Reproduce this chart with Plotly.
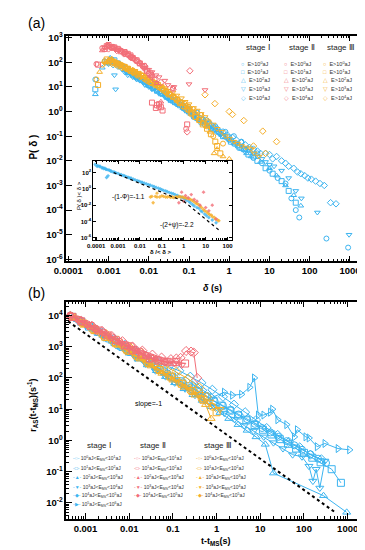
import math
import plotly.graph_objects as go

W, H = 365, 550
BLUE = '#3cb4f0'
RED = '#f26e78'
ORANGE = '#f5ae28'
FONT = 'Liberation Sans, Arial, sans-serif'

# ---------------- Panel (a): P(delta) ----------------
# stage I (blue)
a1_e0_x = [0.00047, 0.0008, 0.0012, 0.0018, 0.0028, 0.0045, 0.007, 0.011, 0.018, 0.03, 0.05, 0.08, 0.13, 0.2, 0.35, 0.6, 1.0, 1.6, 2.5, 4, 6.5, 10, 16, 25, 35, 45, 55, 260, 900,
           0.0013, 0.0022, 0.0035, 0.0055, 0.009, 0.014, 0.023, 0.04, 0.065, 0.1, 0.16, 0.27, 0.45, 0.8, 1.3, 2, 3.2, 5]
a1_e0_y = [20, 110, 130, 85, 45, 30, 18, 11, 6, 3.5, 2, 1.2, 0.6, 0.35, 0.2, 0.12, 0.07, 0.04, 0.025, 0.013, 0.008, 0.004, 0.002, 0.0012, 0.0003, 0.0001, 0.00005, 7e-6, 3e-6,
           95, 70, 40, 28, 15, 9, 7, 4, 2.4, 1.3, 0.9, 0.45, 0.25, 0.15, 0.1, 0.06, 0.03, 0.02]
a1_e1_x = [0.00047, 0.0009, 0.0014, 0.002, 0.003, 0.005, 0.008, 0.013, 0.02, 0.035, 0.06, 0.1, 0.16, 0.25, 0.4, 0.7, 1.1, 1.8, 3, 5, 8, 12, 20, 30, 45,
           0.0011, 0.0017, 0.0026, 0.004, 0.0065, 0.01, 0.016, 0.028, 0.045, 0.075, 0.13, 0.2, 0.32, 0.55, 0.9, 1.4, 2.3, 4]
a1_e1_y = [8, 100, 120, 70, 40, 25, 16, 9, 5.5, 3, 1.8, 1, 0.55, 0.32, 0.2, 0.1, 0.06, 0.035, 0.018, 0.01, 0.005, 0.003, 0.0015, 0.0006, 0.0002,
           110, 90, 55, 35, 20, 12, 7, 4, 2.4, 1.4, 0.75, 0.45, 0.3, 0.15, 0.09, 0.05, 0.03, 0.015]
a1_e2_x = [0.00047, 0.0007, 0.0011, 0.0016, 0.0025, 0.004, 0.006, 0.01, 0.016, 0.025, 0.04, 0.07, 0.11, 0.18, 0.3, 0.5, 0.8, 1.3, 2, 3.5, 6, 10, 15, 25, 40, 60,
           0.0013, 0.002, 0.0032, 0.005, 0.008, 0.013, 0.02, 0.032, 0.055, 0.09, 0.14, 0.24, 0.4, 0.65, 1.05, 1.7, 2.7]
a1_e2_y = [5, 60, 150, 90, 50, 28, 20, 12, 7, 4.5, 2.5, 1.4, 0.8, 0.45, 0.25, 0.15, 0.09, 0.05, 0.03, 0.015, 0.009, 0.005, 0.0025, 0.001, 0.0004, 0.00015,
           120, 70, 40, 25, 15, 10, 6, 3.5, 2, 1, 0.6, 0.35, 0.2, 0.12, 0.07, 0.04, 0.02]
a1_e3_x = [0.0014, 0.0015, 0.0025, 0.004, 0.006, 0.01, 0.015, 0.025, 0.04, 0.065, 0.1, 0.17, 0.28, 0.45, 0.7, 1.2, 2, 3, 5, 8, 13, 20, 30, 45, 62, 155, 950,
           0.003, 0.005, 0.008, 0.012, 0.02, 0.032, 0.05, 0.08, 0.13, 0.22, 0.35, 0.55, 0.9, 1.5, 2.5, 4, 6.5, 10]
a1_e3_y = [30, 8, 40, 25, 18, 10, 7, 4, 2.4, 1.5, 0.9, 0.5, 0.3, 0.18, 0.1, 0.06, 0.04, 0.025, 0.015, 0.009, 0.006, 0.004, 0.002, 0.0006, 0.0003, 0.00008, 0.00001,
           30, 20, 12, 8, 5, 3, 2, 1.2, 0.7, 0.4, 0.25, 0.14, 0.08, 0.05, 0.03, 0.02, 0.012, 0.007]
a1_e4_x = [0.001, 0.0017, 0.003, 0.005, 0.008, 0.013, 0.02, 0.035, 0.06, 0.1, 0.17, 0.3, 0.5, 0.9, 1.5, 2.5, 4, 6, 10, 15, 25, 40, 60, 90, 140, 230, 330, 450,
           0.0013, 0.0022, 0.004, 0.0065, 0.01, 0.016, 0.027, 0.045, 0.08, 0.13, 0.22, 0.4, 0.7, 1.2, 2, 3.2, 5, 8, 12, 20, 30, 50, 75, 110, 180]
a1_e4_y = [90, 70, 40, 25, 14, 9, 6, 3.5, 2, 1.1, 0.6, 0.35, 0.2, 0.11, 0.07, 0.045, 0.03, 0.02, 0.018, 0.015, 0.008, 0.005, 0.003, 0.002, 0.0015, 0.001, 0.0002, 0.00018,
           80, 55, 30, 20, 12, 8, 4.5, 2.8, 1.5, 0.8, 0.5, 0.25, 0.15, 0.09, 0.055, 0.035, 0.025, 0.02, 0.012, 0.01, 0.006, 0.0035, 0.0025, 0.0018, 0.0012]
# stage II (red)
a2_e0_x = [0.0005, 0.0009, 0.0012, 0.0017, 0.0025, 0.0035, 0.005, 0.007, 0.01, 0.014, 0.018, 0.04, 0.085,
           0.0007, 0.001, 0.0014, 0.002, 0.003, 0.0042, 0.006, 0.0085, 0.012]
a2_e0_y = [85, 420, 380, 330, 230, 160, 110, 70, 35, 20, 1.5, 9, 0.2,
           380, 460, 400, 300, 200, 140, 90, 50, 25]
a2_e1_x = [0.00055, 0.0008, 0.001, 0.0014, 0.002, 0.003, 0.004, 0.006, 0.009, 0.012, 0.015, 0.018, 0.022, 0.09,
           0.0009, 0.0012, 0.0017, 0.0025, 0.0035, 0.005, 0.0075, 0.011, 0.016, 0.02]
a2_e1_y = [80, 350, 500, 400, 280, 220, 150, 90, 45, 2.3, 1.4, 2.0, 1.1, 0.3,
           450, 420, 350, 260, 190, 120, 70, 35, 1.8, 1.5]
a2_e2_x = [0.0007, 0.001, 0.0013, 0.002, 0.0028, 0.004, 0.006, 0.008, 0.011, 0.016, 0.02]
a2_e2_y = [300, 450, 420, 320, 250, 170, 100, 55, 28, 14, 2.5]
a2_e3_x = [0.0008, 0.0012, 0.0018, 0.0026, 0.0037, 0.0055, 0.008, 0.012, 0.018, 0.03, 0.1, 0.25,
           0.001, 0.0015, 0.0022, 0.0031, 0.0045, 0.0068, 0.01, 0.015, 0.025, 0.042]
a2_e3_y = [400, 380, 300, 240, 150, 90, 60, 40, 25, 12, 13, 7.5,
           450, 330, 280, 200, 120, 75, 50, 30, 18, 10]
a2_e4_x = [0.001, 0.0016, 0.0024, 0.0035, 0.005, 0.008, 0.012, 0.02, 0.04, 0.105, 0.09]
a2_e4_y = [350, 300, 220, 170, 120, 70, 30, 15, 8, 45, 0.15]
# stage III (orange)
a3_e0_x = [0.0005, 0.0008, 0.0011, 0.0016, 0.0024, 0.0035, 0.005, 0.008, 0.012, 0.018, 0.028, 0.045, 0.07, 0.11, 0.18, 0.28, 0.4, 0.7,
           0.0007, 0.0013, 0.002, 0.003, 0.0042, 0.0065, 0.01, 0.015, 0.023, 0.035, 0.055, 0.09, 0.14, 0.22]
a3_e0_y = [20, 110, 120, 90, 70, 45, 35, 25, 14, 10, 6, 3.5, 1.6, 0.8, 0.45, 0.25, 0.1, 0.05,
           80, 100, 80, 55, 40, 30, 20, 12, 8, 5, 2.5, 1.2, 0.6, 0.35]
a3_e1_x = [0.00055, 0.0009, 0.0013, 0.002, 0.003, 0.0045, 0.007, 0.011, 0.017, 0.026, 0.04, 0.06, 0.1, 0.15, 0.22, 0.35, 0.5, 0.6,
           0.0011, 0.0016, 0.0025, 0.0037, 0.0055, 0.009, 0.014, 0.021, 0.032, 0.05, 0.08, 0.12, 0.18, 0.28, 0.45]
a3_e1_y = [12, 130, 100, 75, 55, 40, 28, 16, 12, 7, 4, 2.2, 1.2, 0.6, 0.3, 0.12, 0.04, 0.02,
           120, 90, 65, 45, 32, 20, 14, 9, 5, 3, 1.6, 0.9, 0.45, 0.2, 0.06]
a3_e2_x = [0.0006, 0.0009, 0.0012, 0.0018, 0.0027, 0.004, 0.006, 0.009, 0.014, 0.022, 0.035, 0.055, 0.09, 0.14, 0.22, 0.33, 0.5, 0.7, 1.0,
           0.0015, 0.0022, 0.0033, 0.005, 0.0075, 0.011, 0.017, 0.028, 0.045, 0.07, 0.11, 0.18, 0.27, 0.42]
a3_e2_y = [40, 100, 140, 85, 60, 50, 30, 20, 15, 8, 5, 3, 1.5, 0.9, 0.35, 0.15, 0.03, 0.015, 0.012,
           110, 70, 55, 40, 25, 17, 11, 7, 4, 2, 1.2, 0.5, 0.25, 0.02]
a3_e3_x = [0.0008, 0.0012, 0.0017, 0.0025, 0.0038, 0.0055, 0.008, 0.012, 0.02, 0.03, 0.05, 0.08, 0.13, 0.2, 0.3, 0.5, 0.8, 1.3, 2, 3.5, 5.5,
           0.001, 0.0014, 0.002, 0.003, 0.0045, 0.0067, 0.01, 0.015, 0.025, 0.04, 0.065, 0.1, 0.16, 0.25, 0.4, 0.65, 1, 1.6, 2.6, 4.2]
a3_e3_y = [90, 120, 95, 70, 50, 38, 26, 18, 11, 7, 4.5, 2.5, 1.4, 0.8, 0.4, 0.2, 0.1, 0.06, 0.04, 0.03, 0.015,
           110, 100, 80, 60, 45, 32, 22, 15, 9, 6, 3.5, 2, 1.1, 0.6, 0.3, 0.15, 0.08, 0.05, 0.035, 0.02]
a3_e4_x = [0.001, 0.0015, 0.0022, 0.0033, 0.005, 0.0075, 0.011, 0.017, 0.026, 0.04, 0.06, 0.1, 0.25, 0.44, 1.0, 1.2, 2.3, 6.8, 15, 4, 8,
           0.0012, 0.0018, 0.0027, 0.004, 0.006, 0.009, 0.014, 0.021, 0.032, 0.05, 0.08, 0.13, 0.2, 0.3]
a3_e4_y = [100, 80, 60, 45, 30, 22, 15, 10, 6, 4, 2.5, 1.5, 4.8, 2.1, 1.0, 0.76, 0.43, 0.16, 0.06, 0.04, 0.02,
           90, 70, 55, 38, 26, 18, 12, 8, 5, 3, 2, 1.2, 0.7, 0.4]

# inset: scaled distributions
in_blue_x = [0.00009, 0.00012, 0.00015, 0.0002, 0.00025, 0.0003, 0.0004, 0.0005, 0.0007, 0.001, 0.0014, 0.002, 0.003, 0.004, 0.006, 0.009, 0.013, 0.02, 0.03, 0.045, 0.07, 0.1, 0.15, 0.22, 0.33, 0.5, 0.75, 1.1, 1.7, 2.5, 4, 6, 9, 14, 20, 30, 0.0003, 0.00035,
             0.00011, 0.00014, 0.00018, 0.00022, 0.00028, 0.00035, 0.00045, 0.0006, 0.0008, 0.0012, 0.0017, 0.0025, 0.0035, 0.005, 0.0075, 0.011, 0.016, 0.025, 0.038, 0.055, 0.085, 0.12, 0.18, 0.27, 0.4, 0.6, 0.9, 1.3, 2, 3, 5, 7, 11]
in_blue_y = [1000, 700, 600, 400, 350, 250, 200, 150, 110, 80, 55, 40, 25, 20, 13, 9, 6, 4, 2.8, 1.8, 1.2, 0.8, 0.55, 0.35, 0.25, 0.16, 0.1, 0.06, 0.03, 0.012, 0.005, 0.002, 0.0008, 0.0003, 0.00015, 0.00007, 25, 40,
             600, 550, 400, 320, 250, 220, 160, 120, 90, 60, 45, 30, 22, 15, 10, 7, 5, 3.2, 2.2, 1.5, 1, 0.65, 0.45, 0.3, 0.2, 0.12, 0.08, 0.04, 0.02, 0.008, 0.004, 0.0015, 0.0005]
in_orange_x = [0.03, 0.05, 0.08, 0.12, 0.18, 0.25, 0.35, 0.5, 0.7, 1, 1.4, 2, 2.8, 4, 5.5, 8, 11, 15, 20, 28, 40, 0.04, 0.06,
               0.035, 0.06, 0.1, 0.15, 0.22, 0.3, 0.45, 0.6, 0.85, 1.2, 1.7, 2.4, 3.4, 4.7, 6.5, 9, 13, 18, 25, 35]
in_orange_y = [0.1, 0.12, 0.1, 0.12, 0.1, 0.09, 0.085, 0.09, 0.1, 0.09, 0.07, 0.05, 0.03, 0.015, 0.008, 0.003, 0.0015, 0.0007, 0.0004, 0.0002, 0.00012, 0.02, 0.3,
               0.12, 0.1, 0.14, 0.1, 0.12, 0.1, 0.11, 0.12, 0.1, 0.08, 0.06, 0.04, 0.02, 0.012, 0.005, 0.002, 0.001, 0.0006, 0.0003, 0.00015]
in_red_x = [0.8, 1.2, 1.6, 2.2, 3, 4, 5.5, 8, 10, 14, 20, 30, 0.6, 1]
in_red_y = [0.4, 0.15, 0.08, 0.2, 0.05, 0.03, 0.01, 0.4, 0.005, 0.002, 0.01, 0.0002, 0.02, 0.03]
in_guide1_x = [0.00063, 1.0]
in_guide1_y = [100, 0.03]
in_guide2_x = [1.0, 45]
in_guide2_y = [0.03, 6.9e-6]

# ---------------- Panel (b): aftershock rate ----------------
b1_e0_x = [0.00045, 0.0007, 0.0011, 0.0017, 0.0026, 0.004, 0.006, 0.009, 0.014, 0.021, 0.032, 0.05, 0.075, 0.11, 0.17, 0.26, 0.4, 0.6, 0.9, 1.4, 2.1, 3.2, 5, 7.5, 11, 17, 26, 40, 60, 90, 140, 210, 320]
b1_e0_y = [10000, 7000, 4800, 3300, 2300, 1600, 1150, 800, 560, 400, 290, 200, 140, 100, 72, 50, 36, 26, 18, 13, 9.5, 6.8, 4.8, 3.4, 2.5, 1.8, 1.3, 0.95, 0.7, 0.5, 0.36, 0.26, 0.19]
b1_e1_x = [0.0005, 0.0008, 0.0012, 0.0019, 0.003, 0.0046, 0.007, 0.011, 0.017, 0.026, 0.04, 0.062, 0.095, 0.15, 0.23, 0.35, 0.55, 0.85, 1.3, 2, 3.1, 4.8, 7.4, 11.5, 18, 28, 43, 66, 100, 155, 240, 430, 700]
b1_e1_y = [9000, 6300, 4400, 3000, 2000, 1400, 980, 680, 470, 330, 230, 160, 110, 78, 54, 38, 26, 18.5, 13, 9, 6.3, 4.4, 3.1, 2.2, 1.55, 1.1, 0.78, 0.55, 0.4, 0.28, 0.2, 0.12, 0.044]
b1_e2_x = [0.0005, 0.0009, 0.0015, 0.0025, 0.004, 0.0065, 0.01, 0.016, 0.026, 0.042, 0.068, 0.11, 0.18, 0.29, 0.47, 0.75, 1.2, 1.9, 3.1, 5, 8, 13, 20, 280, 950]
b1_e2_y = [8800, 5600, 3600, 2300, 1500, 950, 620, 400, 260, 170, 110, 70, 45, 29, 19, 12, 7.8, 5, 3.2, 2.1, 1.3, 0.75, 0.09, 0.017, 0.005]
b1_e3_x = [0.00055, 0.001, 0.0018, 0.003, 0.005, 0.0085, 0.014, 0.024, 0.04, 0.068, 0.11, 0.19, 0.32, 0.55, 0.9, 1.5, 2.6, 4.3, 7, 12, 20, 33, 55, 90, 130, 160, 190, 230, 300]
b1_e3_y = [8000, 4800, 2900, 1800, 1100, 700, 440, 280, 170, 110, 70, 45, 28, 18, 11.5, 7.5, 4.8, 3, 2, 1.3, 0.85, 0.55, 0.35, 0.3, 0.15, 0.05, 0.12, 0.03, 0.22]
b1_e4_x = [0.00045, 0.0008, 0.0014, 0.0025, 0.0045, 0.008, 0.014, 0.025, 0.045, 0.08, 0.14, 0.25, 0.45, 0.8, 1.4, 2.5, 4.5, 8, 14, 25, 45, 80, 140, 250]
b1_e4_y = [9500, 6500, 4300, 2800, 1800, 1150, 760, 500, 330, 230, 170, 110, 70, 42, 25, 14, 8, 4.5, 2.5, 1.5, 0.9, 0.6, 0.35, 0.25]
b1_e5_x = [0.3, 0.5, 0.8, 1.5, 2.3, 3.7, 5.7, 7.3, 9, 12, 17, 19, 25, 40, 60, 70, 110, 130, 200, 300, 600, 1100]
b1_e5_y = [60, 40, 24, 35, 28, 30, 50, 100, 6.5, 6.5, 8, 10, 4.6, 3.2, 1.3, 2.2, 1.3, 1.2, 0.63, 0.8, 0.55, 0.5]
b2_e0_x = [0.00045, 0.0007, 0.0011, 0.0017, 0.0026, 0.004, 0.006, 0.0085, 0.011, 0.014, 0.018, 0.024, 0.032, 0.045, 0.065]
b2_e0_y = [10000, 7300, 5200, 3800, 2800, 2000, 1450, 1100, 1050, 800, 700, 520, 420, 380, 330]
b2_e1_x = [0.0005, 0.0008, 0.0013, 0.002, 0.0032, 0.005, 0.008, 0.012, 0.019, 0.03, 0.047, 0.075, 0.12, 0.19]
b2_e1_y = [9000, 6500, 4600, 3300, 2300, 1600, 1100, 760, 560, 420, 360, 330, 320, 290]
b2_e2_x = [0.00045, 0.00075, 0.0012, 0.002, 0.0033, 0.0055, 0.009, 0.015, 0.025, 0.04, 0.065, 0.1]
b2_e2_y = [9800, 7000, 4900, 3300, 2300, 1500, 1000, 700, 500, 400, 320, 280]
b2_e3_x = [0.00055, 0.0009, 0.0015, 0.0025, 0.004, 0.0065, 0.01, 0.017, 0.028, 0.045, 0.07, 0.11, 0.16]
b2_e3_y = [8500, 6000, 4100, 2800, 1900, 1300, 900, 640, 480, 380, 330, 300, 260]
b2_e4_x = [0.00045, 0.0008, 0.0014, 0.0024, 0.004, 0.007, 0.012, 0.02, 0.034, 0.055, 0.09, 0.12, 0.15, 0.2, 0.26, 0.3, 0.36]
b2_e4_y = [9500, 6800, 4700, 3200, 2200, 1500, 1000, 750, 560, 450, 400, 420, 440, 730, 700, 650, 100]
b3_e0_x = [0.00045, 0.0008, 0.0014, 0.0025, 0.0045, 0.008, 0.014, 0.025, 0.045, 0.08, 0.14, 0.25, 0.45, 0.8]
b3_e0_y = [9800, 6000, 3700, 2300, 1400, 850, 520, 320, 190, 115, 70, 40, 22, 12]
b3_e1_x = [0.0005, 0.0009, 0.0016, 0.0028, 0.005, 0.009, 0.016, 0.028, 0.05, 0.09, 0.16, 0.28, 0.5, 1.0]
b3_e1_y = [9000, 5500, 3400, 2100, 1300, 800, 490, 300, 180, 110, 65, 38, 20, 8]
b3_e2_x = [0.00055, 0.001, 0.0018, 0.0032, 0.0056, 0.01, 0.018, 0.032, 0.056, 0.1, 0.18, 0.32, 0.56, 0.75]
b3_e2_y = [8500, 5000, 3000, 1800, 1100, 650, 400, 240, 140, 85, 50, 28, 14, 5]
b3_e3_x = [0.0006, 0.0011, 0.002, 0.0036, 0.0065, 0.012, 0.021, 0.038, 0.07, 0.12, 0.22, 0.4, 0.7, 1.2]
b3_e3_y = [8000, 4800, 2800, 1700, 1050, 640, 390, 240, 145, 90, 52, 30, 17, 10]
b3_e4_x = [0.00045, 0.00085, 0.0016, 0.003, 0.0055, 0.01, 0.019, 0.035, 0.065, 0.12, 0.22, 0.4, 0.6]
b3_e4_y = [9600, 6200, 3900, 2500, 1600, 1000, 640, 400, 250, 160, 95, 50, 25]
slope_x = [0.0004, 550]
slope_y = [6500, 0.0047]

# tick labels
a_xticks = [0.0001, 0.001, 0.01, 0.1, 1, 10, 100, 1000]
a_xlabels = ['0.0001', '0.001', '0.01', '0.1', '1', '10', '100', '1000']
a_yexp = [3, 2, 1, 0, -1, -2, -3, -4, -5, -6]
b_xticks = [0.001, 0.01, 0.1, 1, 10, 100, 1000]
b_xlabels = ['0.001', '0.01', '0.1', '1', '10', '100', '1000']
b_yexp = [4, 3, 2, 1, 0, -1, -2]
in_xticks = [0.0001, 0.001, 0.01, 0.1, 1, 10, 100]
in_xlabels = ['0.0001', '0.001', '0.01', '0.1', '1', '10', '100']
in_yexp = [2, 0, -2, -4, -6]

stage_names = ['stage Ⅰ', 'stage Ⅱ', 'stage Ⅲ']
a_legend_exp = [0, 1, 2, 3, 4]
b_legend_lo = [[0, 1, 2, 3, 4, 5], [0, 1, 2, 3, 4], [0, 1, 2, 3, 4]]

# ---------------- build ----------------
def px(x):
    return x / W

def py(y):
    return 1 - y / H

fig = go.Figure()
SYM_A = ['circle-open', 'square-open', 'triangle-up-open', 'triangle-down-open', 'diamond-open']
SYM_B = ['circle-open', 'square-open', 'triangle-up-open', 'triangle-down-open', 'diamond-open', 'triangle-right-open']

a_series = [
    (BLUE, [(a1_e0_x, a1_e0_y), (a1_e1_x, a1_e1_y), (a1_e2_x, a1_e2_y), (a1_e3_x, a1_e3_y), (a1_e4_x, a1_e4_y)]),
    (ORANGE, [(a3_e0_x, a3_e0_y), (a3_e1_x, a3_e1_y), (a3_e2_x, a3_e2_y), (a3_e3_x, a3_e3_y), (a3_e4_x, a3_e4_y)]),
    (RED, [(a2_e0_x, a2_e0_y), (a2_e1_x, a2_e1_y), (a2_e2_x, a2_e2_y), (a2_e3_x, a2_e3_y), (a2_e4_x, a2_e4_y)]),
]
for color, series in a_series:
    for i, (xs, ys) in enumerate(series):
        fig.add_trace(go.Scatter(x=xs, y=ys, mode='markers', xaxis='x', yaxis='y', showlegend=False,
                                 marker=dict(symbol=SYM_A[i], size=5, color=color, line=dict(width=1, color=color))))

# inset
for xs, ys, color in [(in_blue_x, in_blue_y, BLUE), (in_orange_x, in_orange_y, ORANGE), (in_red_x, in_red_y, RED)]:
    fig.add_trace(go.Scatter(x=xs, y=ys, mode='markers', xaxis='x3', yaxis='y3', showlegend=False,
                             marker=dict(symbol='diamond', size=3, color=color, opacity=0.8)))
for xs, ys in [(in_guide1_x, in_guide1_y), (in_guide2_x, in_guide2_y)]:
    fig.add_trace(go.Scatter(x=xs, y=ys, mode='lines', xaxis='x3', yaxis='y3', showlegend=False,
                             line=dict(color='black', width=1.2, dash='dot')))

b_series = [
    (BLUE, [(b1_e0_x, b1_e0_y), (b1_e1_x, b1_e1_y), (b1_e2_x, b1_e2_y), (b1_e3_x, b1_e3_y), (b1_e4_x, b1_e4_y), (b1_e5_x, b1_e5_y)]),
    (ORANGE, [(b3_e0_x, b3_e0_y), (b3_e1_x, b3_e1_y), (b3_e2_x, b3_e2_y), (b3_e3_x, b3_e3_y), (b3_e4_x, b3_e4_y)]),
    (RED, [(b2_e0_x, b2_e0_y), (b2_e1_x, b2_e1_y), (b2_e2_x, b2_e2_y), (b2_e3_x, b2_e3_y), (b2_e4_x, b2_e4_y)]),
]
for color, series in b_series:
    for i, (xs, ys) in enumerate(series):
        fig.add_trace(go.Scatter(x=xs, y=ys, mode='lines+markers', xaxis='x2', yaxis='y2', showlegend=False,
                                 line=dict(color=color, width=1),
                                 marker=dict(symbol=SYM_B[i], size=7, color=color, line=dict(width=1, color=color))))
fig.add_trace(go.Scatter(x=slope_x, y=slope_y, mode='lines', xaxis='x2', yaxis='y2', showlegend=False,
                         line=dict(color='black', width=2, dash='dot')))


def minor_in(rng):
    return [k * 10.0 ** e for e in range(-7, 5) for k in range(2, 10)
            if rng[0] < math.log10(k * 10.0 ** e) < rng[1]]

def sup(e):
    return '<b>10<sup>%d</sup></b>' % e

def axis(domain, rng, tickvals, ticktext, fs, minor=True, ticklen=6, lw=1.5):
    d = dict(type='log', domain=domain, range=rng, showline=True, linewidth=lw, linecolor='black',
             mirror='allticks', ticks='inside', ticklen=ticklen, tickwidth=1.2, tickcolor='black',
             showgrid=False, zeroline=False, tickmode='array', tickvals=tickvals, ticktext=ticktext,
             tickfont=dict(size=fs, family=FONT, color='black'))
    if minor:
        d['minor'] = dict(tickmode='array', tickvals=minor_in(rng), ticks='inside', ticklen=ticklen / 2,
                          tickwidth=1, tickcolor='black', showgrid=False)
    return d

fig.update_layout(
    width=W, height=H, margin=dict(l=0, r=0, t=0, b=0), autosize=False,
    paper_bgcolor='white', plot_bgcolor='white', font=dict(family=FONT, color='black'),
    xaxis=dict(axis([px(48), px(358)], [-4.05, 3.38], a_xticks, ['<b>%s</b>' % s for s in a_xlabels], 9.5), anchor='y'),
    yaxis=dict(axis([py(252), py(23)], [-6.08, 3.08], [10.0 ** e for e in a_yexp], [sup(e) for e in a_yexp], 9.5, minor=False), anchor='x'),
    xaxis2=dict(axis([px(48), px(357)], [-3.44, 3.38], b_xticks, ['<b>%s</b>' % s for s in b_xlabels], 9.5), anchor='y2'),
    yaxis2=dict(axis([py(513), py(293)], [-2.5, 4.44], [10.0 ** e for e in b_yexp], [sup(e) for e in b_yexp], 9.5), anchor='x2'),
    xaxis3=dict(axis([px(76), px(220)], [-4.13, 2.21], in_xticks, ['<b>%s</b>' % s for s in in_xlabels], 6, ticklen=3, lw=1), anchor='y3'),
    yaxis3=dict(axis([py(230), py(150)], [-6.24, 3.45], [10.0 ** e for e in in_yexp], [sup(e) for e in in_yexp], 6, minor=False, ticklen=3, lw=1), anchor='x3'),
)

ann = []
def A(x, y, text, size, angle=0, xanchor='center', color='black'):
    ann.append(dict(x=px(x), y=py(y), xref='paper', yref='paper', text=text, showarrow=False,
                    font=dict(size=size, family=FONT, color=color), textangle=angle,
                    xanchor=xanchor, yanchor='middle'))

A(17, 10, '(a)', 14)
A(17, 284, '(b)', 14)
A(13, 136, '<b>P( δ )</b>', 10, angle=-90)
A(200, 279, '<b><i>δ</i> (s)</b>', 9)
A(13, 398, '<b>r<sub>AS</sub>(t-t<sub>MS</sub>)(s<sup>-1</sup>)</b>', 9, angle=-90)
A(203, 536, '<b>t-t<sub>MS</sub>(s)</b>', 9)
# inset texts
A(62, 185, 'P( δ )< δ >', 6, angle=-90)
A(146, 243, '<b>δ /< δ ></b>', 6)
A(113, 187, '-(1-Φ)=-1.1', 6.5)
A(163, 215, '-(2+ψ)=-2.2', 6.5)
A(133, 397, 'slope=-1', 7)

# legend (a)
a_sym_chars = ['○', '□', '△', '▽', '◇']
a_head_x = [247, 292, 333]
a_key_x = [227, 272, 312]
a_rows = [52, 60, 68, 77, 86]
for s, col in enumerate([BLUE, RED, ORANGE]):
    A(a_head_x[s], 35, stage_names[s], 8, color='#222')
    for r, e in enumerate(a_legend_exp):
        A(a_key_x[s], a_rows[r], "<span style='color:%s'>%s</span>  E&gt;10<sup>%d</sup>aJ" % (col, a_sym_chars[r], e),
          5.5, xanchor='left', color='#333')

# legend (b)
b_sym_chars = ['○', '□', '▲', '▼', '◆', '▶']
b_head_x = [82, 138, 205]
b_key_x = [53, 116, 180]
b_rows = [452, 462, 471, 481, 490, 499]
for s, col in enumerate([BLUE, RED, ORANGE]):
    A(b_head_x[s], 439, stage_names[s], 8, color='#222')
    for r, e in enumerate(b_legend_lo[s]):
        A(b_key_x[s], b_rows[r],
          "<span style='color:%s'>-%s-</span> 10<sup>%d</sup>aJ&lt;E<sub>MS</sub>&lt;10<sup>%d</sup>aJ" % (col, b_sym_chars[r], e, e + 1),
          5, xanchor='left', color='#333')

fig.update_layout(annotations=ann)
fig.write_html('out.html')
